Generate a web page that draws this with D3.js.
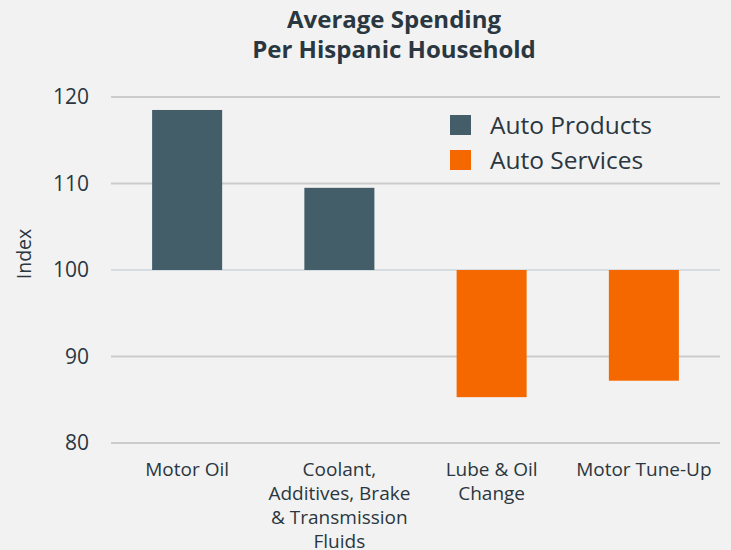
<!DOCTYPE html>
<html>
<head>
<meta charset="utf-8">
<script src="https://cdn.jsdelivr.net/npm/d3@7"></script>
<style>
  body { margin: 0; background: #f2f2f2; }
  text { font-family: "Open Sans", Lato, sans-serif; fill: #2a3740; }
</style>
</head>
<body>
<div id="chart"></div>
<script>
// chart values
var categories = ["Motor Oil", "Coolant, Additives, Brake & Transmission Fluids", "Lube & Oil Change", "Motor Tune-Up"];
var categoryLines = [["Motor Oil"], ["Coolant,", "Additives, Brake", "& Transmission", "Fluids"], ["Lube & Oil", "Change"], ["Motor Tune-Up"]];
var indexValues = [118.5, 109.5, 85.3, 87.2];
var seriesOf = ["Auto Products", "Auto Products", "Auto Services", "Auto Services"];
var seriesNames = ["Auto Products", "Auto Services"];
var yTicks = [80, 90, 100, 110, 120];
var baseline = 100;

var svgWidth = 731;
var svgHeight = 550;

var colors = d3.scaleOrdinal()
  .domain(seriesNames)
  .range(["#435e69", "#f56800"]);

var svg = d3.select("#chart")
  .append("svg")
  .attr("width", svgWidth)
  .attr("height", svgHeight);

svg.append("rect")
  .attr("width", svgWidth)
  .attr("height", svgHeight)
  .attr("fill", "#f2f2f2");

var xScale = d3.scaleBand()
  .domain(categories)
  .range([111, 720])
  .paddingInner(0.54)
  .paddingOuter(0.27);

var yScale = d3.scaleLinear()
  .domain([80, 120])
  .range([443, 97]);

// title
var title = svg.append("text")
  .attr("text-anchor", "middle")
  .style("font-size", "24px")
  .style("font-weight", "bold");
title.append("tspan").attr("x", 394).attr("y", 28).text("Average Spending");
title.append("tspan").attr("x", 394).attr("y", 58).text("Per Hispanic Household");

// gridlines
svg.append("g")
  .selectAll("line")
  .data(yTicks)
  .enter()
  .append("line")
  .attr("x1", 111)
  .attr("x2", 720)
  .attr("y1", d => yScale(d))
  .attr("y2", d => yScale(d))
  .attr("stroke", d => d === baseline ? "#d6dde2" : "#cbcbcb")
  .attr("stroke-width", 2);

// y axis labels
var leftAxis = d3.axisLeft(yScale).tickValues(yTicks).tickSize(0).tickPadding(0);
var yAxis = svg.append("g")
  .attr("transform", "translate(89, 0)")
  .call(leftAxis);
yAxis.select(".domain").remove();
yAxis.selectAll("text")
  .style("font-size", "21px")
  .style("font-family", "'Open Sans', sans-serif")
  .attr("fill", "#2a3740");

svg.append("text")
  .attr("transform", "rotate(-90)")
  .attr("x", -254)
  .attr("y", 31)
  .attr("text-anchor", "middle")
  .style("font-size", "19.5px")
  .text("Index");

// bars
svg.append("g")
  .selectAll("rect")
  .data(categories)
  .enter()
  .append("rect")
  .attr("x", d => xScale(d))
  .attr("width", xScale.bandwidth())
  .attr("y", (d, i) => yScale(Math.max(indexValues[i], baseline)))
  .attr("height", (d, i) => Math.abs(yScale(indexValues[i]) - yScale(baseline)))
  .attr("fill", (d, i) => colors(seriesOf[i]));

// category labels
var catGroup = svg.append("g");
categories.forEach(function(c, i) {
  var t = catGroup.append("text")
    .attr("text-anchor", "middle")
    .style("font-size", "19px");
  categoryLines[i].forEach(function(line, j) {
    t.append("tspan")
      .attr("x", xScale(c) + xScale.bandwidth() / 2)
      .attr("y", 476 + j * 24)
      .text(line);
  });
});

// legend
var legend = svg.append("g")
  .selectAll("g")
  .data(seriesNames)
  .enter()
  .append("g")
  .attr("transform", (d, i) => `translate(450, ${115 + i * 35})`);

legend.append("rect")
  .attr("width", 21)
  .attr("height", 20)
  .attr("fill", d => colors(d));

legend.append("text")
  .attr("x", 40)
  .attr("y", 19)
  .style("font-size", "24.5px")
  .text(d => d);
</script>
</body>
</html>
